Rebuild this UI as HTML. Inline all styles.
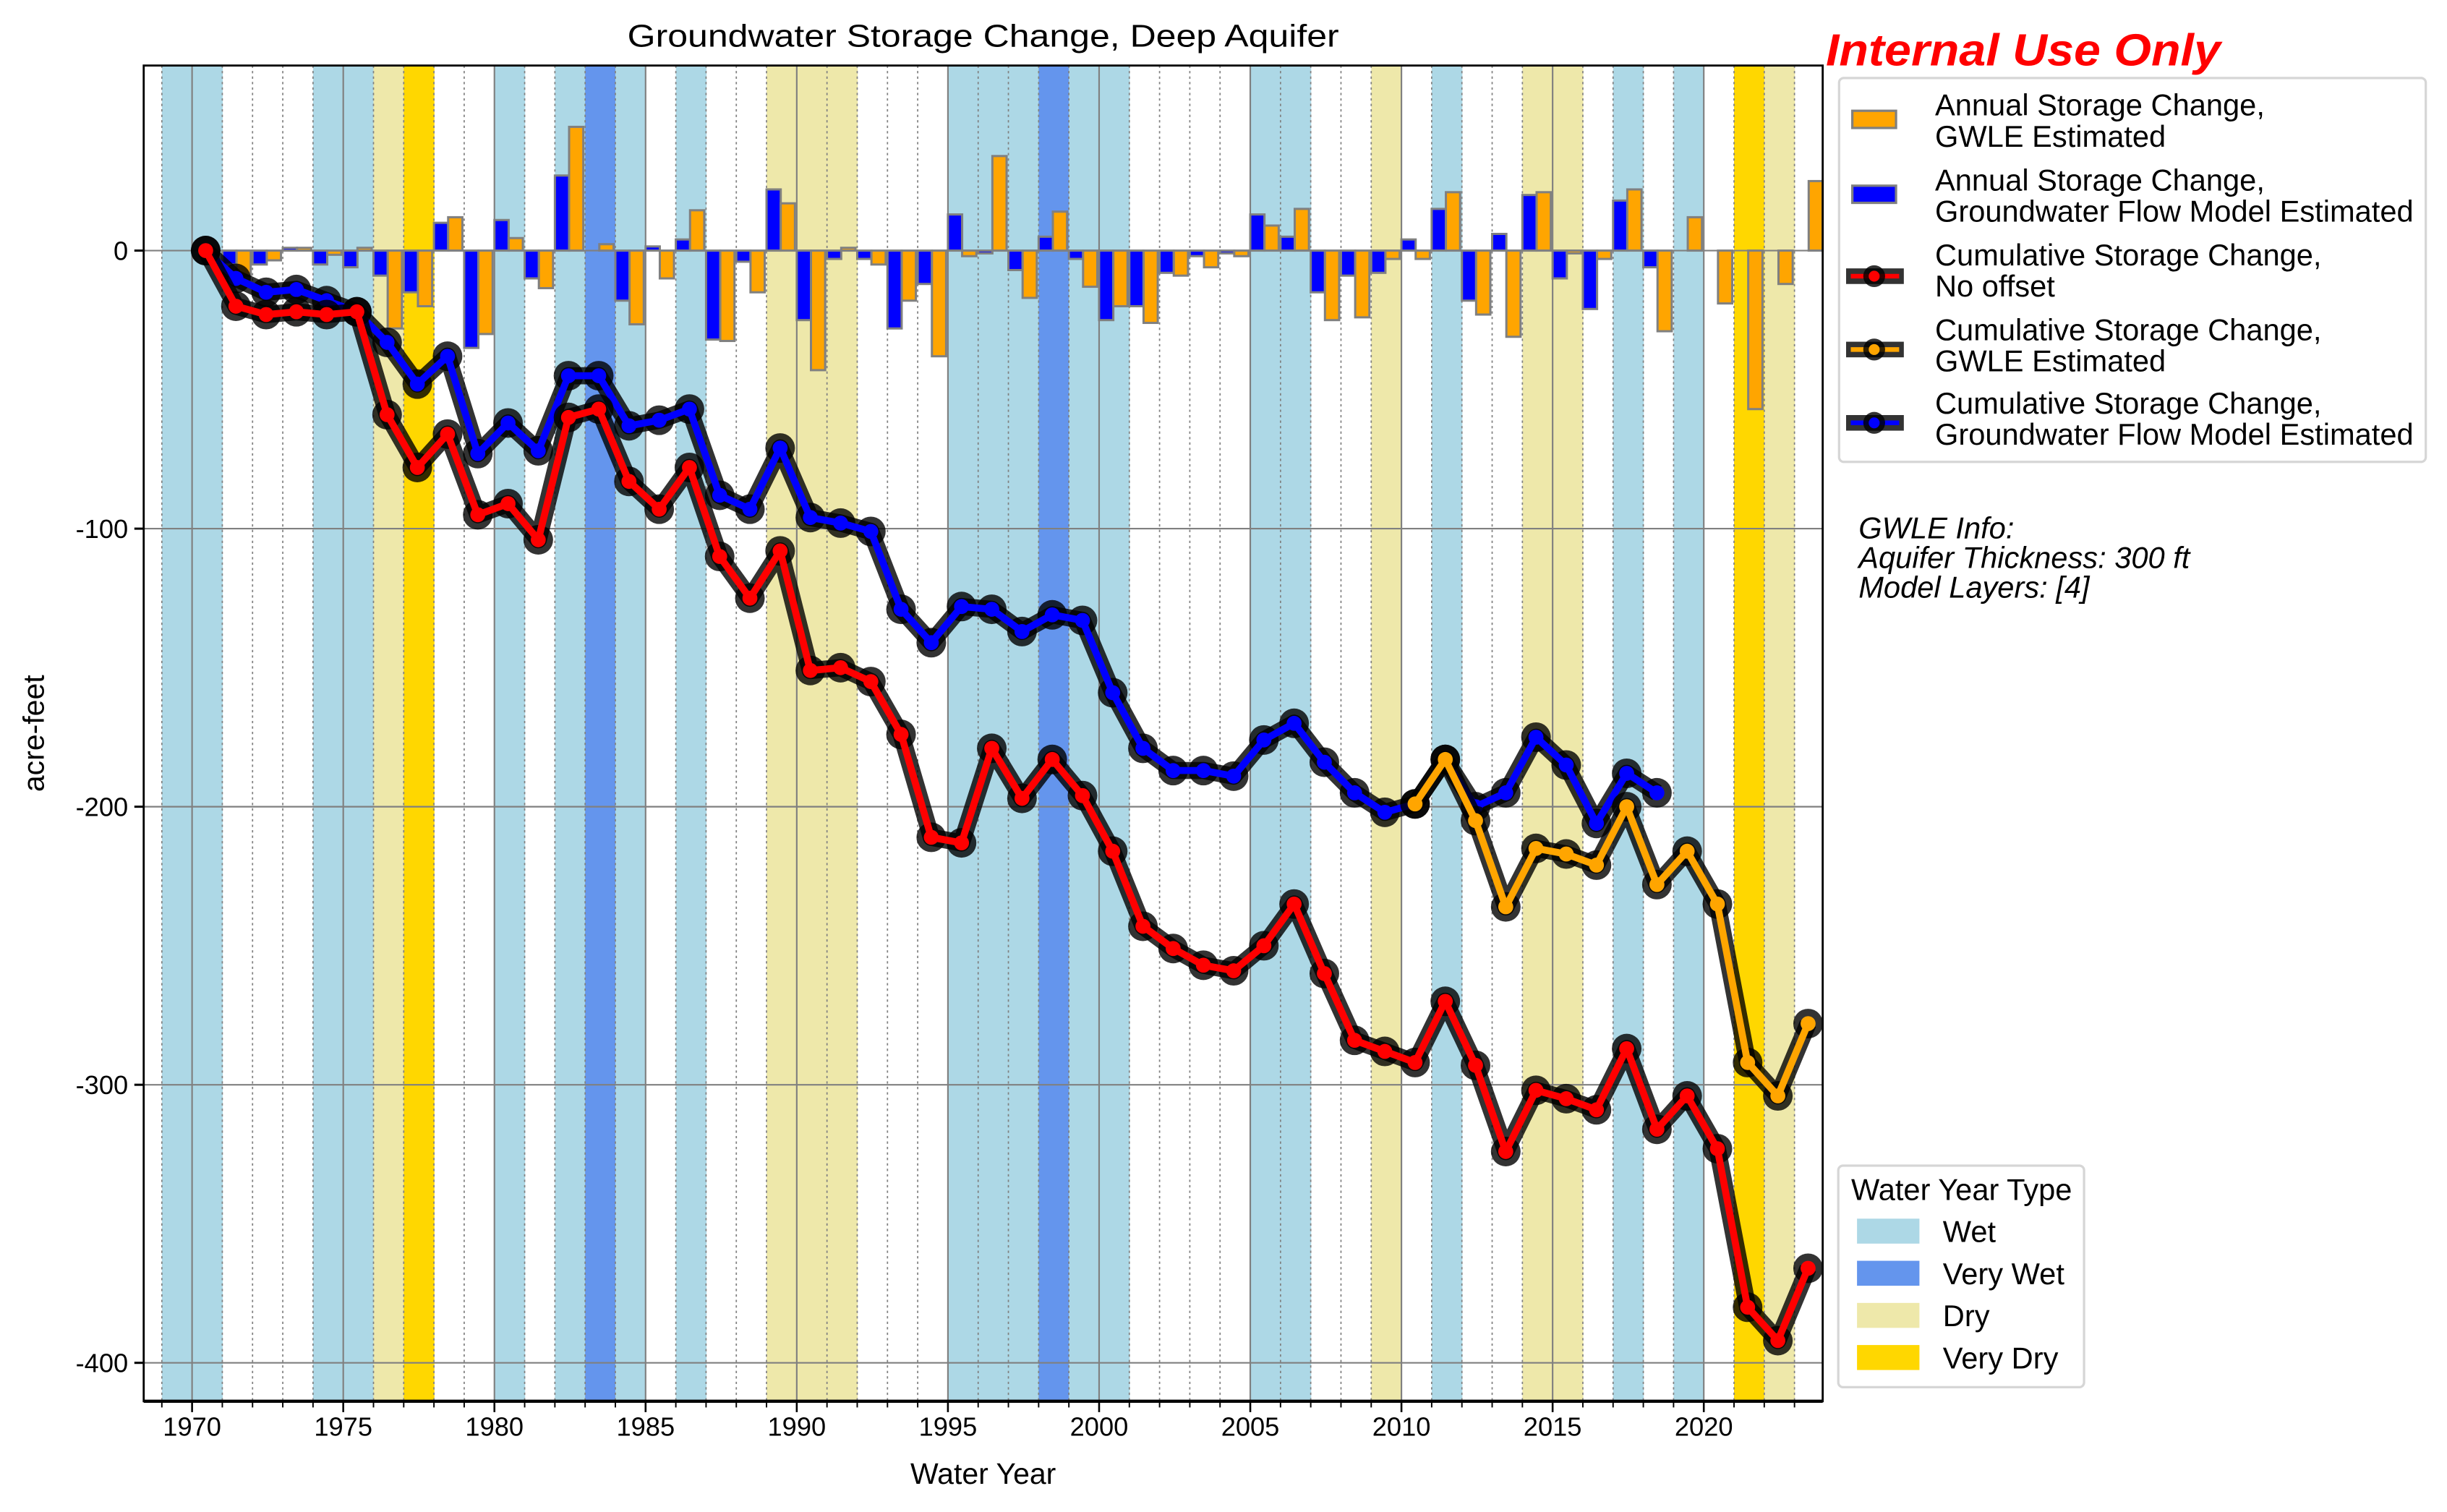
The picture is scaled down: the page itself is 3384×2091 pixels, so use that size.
<!DOCTYPE html>
<html><head><meta charset="utf-8"><style>
html,body{margin:0;padding:0;background:#fff}
svg{display:block;font-family:"Liberation Sans",Arial,sans-serif}
</style></head><body>
<svg id="chart" xmlns="http://www.w3.org/2000/svg" width="3384" height="2091" viewBox="0 0 1568 969">
<rect x="0" y="0" width="1568" height="969" fill="#fff"/>
<g id="bands"></g>
<g id="grid"></g>
<g id="bars"></g>
<g id="lines"></g>
<g id="axes"></g>
<text x="630" y="30" font-size="20" text-anchor="middle" textLength="456" lengthAdjust="spacingAndGlyphs">Groundwater Storage Change, Deep Aquifer</text>
<text x="1170" y="42" font-size="29" font-weight="bold" font-style="italic" fill="#ff0000" textLength="253" lengthAdjust="spacingAndGlyphs">Internal Use Only</text>
<text x="630" y="951" font-size="19" text-anchor="middle">Water Year</text>
<text x="28" y="470" font-size="19" text-anchor="middle" transform="rotate(-90 28 470)">acre-feet</text>

<g>
<rect x="1178.5" y="50" width="376" height="246" rx="3" fill="#fff" stroke="#d6d6d6" stroke-width="1.5"/>
<rect x="1187" y="71" width="28" height="11" fill="#ffa500" stroke="#808080" stroke-width="1.5"/>
<text font-size="19.3"><tspan x="1240" y="74">Annual Storage Change,</tspan><tspan x="1240" y="94">GWLE Estimated</tspan></text>
<rect x="1187" y="119" width="28" height="11" fill="#0000ff" stroke="#808080" stroke-width="1.5"/>
<text font-size="19.3"><tspan x="1240" y="122">Annual Storage Change,</tspan><tspan x="1240" y="142">Groundwater Flow Model Estimated</tspan></text>
<g><rect x="1183" y="172" width="37" height="10" fill="#333"/><line x1="1186" y1="177" x2="1217" y2="177" stroke="#ff0000" stroke-width="3"/><circle cx="1201" cy="177" r="7" fill="#000" opacity="0.8"/><circle cx="1201" cy="177" r="3.5" fill="#ff0000"/></g>
<text font-size="19.3"><tspan x="1240" y="170">Cumulative Storage Change,</tspan><tspan x="1240" y="190">No offset</tspan></text>
<g><rect x="1183" y="219" width="37" height="10" fill="#333"/><line x1="1186" y1="224" x2="1217" y2="224" stroke="#ffa500" stroke-width="3"/><circle cx="1201" cy="224" r="7" fill="#000" opacity="0.8"/><circle cx="1201" cy="224" r="3.5" fill="#ffa500"/></g>
<text font-size="19.3"><tspan x="1240" y="218">Cumulative Storage Change,</tspan><tspan x="1240" y="238">GWLE Estimated</tspan></text>
<g><rect x="1183" y="266" width="37" height="10" fill="#333"/><line x1="1186" y1="271" x2="1217" y2="271" stroke="#0000ff" stroke-width="3"/><circle cx="1201" cy="271" r="7" fill="#000" opacity="0.8"/><circle cx="1201" cy="271" r="3.5" fill="#0000ff"/></g>
<text font-size="19.3"><tspan x="1240" y="265">Cumulative Storage Change,</tspan><tspan x="1240" y="285">Groundwater Flow Model Estimated</tspan></text>
</g>

<text font-size="19.3" font-style="italic"><tspan x="1191" y="345">GWLE Info:</tspan><tspan x="1191" y="364">Aquifer Thickness: 300 ft</tspan><tspan x="1191" y="383">Model Layers: [4]</tspan></text>

<g>
<rect x="1178" y="747" width="157.5" height="142" rx="3" fill="#fff" stroke="#d6d6d6" stroke-width="1.5"/>
<text x="1257" y="769" font-size="19.3" text-anchor="middle">Water Year Type</text>
<rect x="1190" y="781" width="40" height="16" fill="#add8e6"/>
<text x="1245" y="796" font-size="19.3">Wet</text>
<rect x="1190" y="808" width="40" height="16" fill="#6495ed"/>
<text x="1245" y="823" font-size="19.3">Very Wet</text>
<rect x="1190" y="835" width="40" height="16" fill="#eee8aa"/>
<text x="1245" y="850" font-size="19.3">Dry</text>
<rect x="1190" y="862" width="40" height="16" fill="#ffd700"/>
<text x="1245" y="877" font-size="19.3">Very Dry</text>
</g>
</svg>
<script>
// ---- data ----
const bandStarts = [1969,1970,1974,1975,1976,1977,1980,1982,1983,1984,1986,1989,1990,1991,1995,1996,1997,1998,1999,2000,2005,2006,2009,2011,2014,2015,2017,2019,2021,2022];
const bandTypes = ["wet","wet","wet","wet","dry","vdry","wet","wet","vwet","wet","wet","dry","dry","dry","wet","wet","wet","vwet","wet","wet","wet","wet","dry","wet","dry","dry","wet","wet","vdry","dry"];
const barYears = [1971,1972,1973,1974,1975,1976,1977,1978,1979,1980,1981,1982,1983,1984,1985,1986,1987,1988,1989,1990,1991,1992,1993,1994,1995,1996,1997,1998,1999,2000,2001,2002,2003,2004,2005,2006,2007,2008,2009,2010,2011,2012,2013,2014,2015,2016,2017,2018,2019,2020,2021,2022,2023];
const modelBars = [-5,-5,1,-5,-6,-9,-15,10,-35,11,-10,27,0,-18,1.5,4,-32,-4,22,-25,-3,-3,-28,-12,13,-1,-7,5,-3,-25,-20,-8,-2,-1,13,5,-15,-9,-8,4,15,-18,6,20,-10,-21,18,-6,null,null,null,null,null];
const gwleBars = [-9,-3.5,1,-1.5,1,-28,-20,12,-30,4.5,-13.5,44.5,2.3,-26.5,-10,14.5,-32.5,-15,17,-43,1,-5,-18,-38,-2,34,-17,14,-13,-20,-26,-9,-6,-2,9,15,-25,-24,-3,-3,21,-23,-31,21,-1,-3,22,-29,12,-19,-57,-12,25];
const cumYears = [1970,1971,1972,1973,1974,1975,1976,1977,1978,1979,1980,1981,1982,1983,1984,1985,1986,1987,1988,1989,1990,1991,1992,1993,1994,1995,1996,1997,1998,1999,2000,2001,2002,2003,2004,2005,2006,2007,2008,2009,2010,2011,2012,2013,2014,2015,2016,2017,2018,2019,2020,2021,2022,2023];
const cumNoOffset = [0,-20,-23,-22,-23,-22,-59,-78,-66,-95,-91,-104,-60,-57,-83,-93,-78,-110,-125,-108,-151,-150,-155,-174,-211,-213,-179,-197,-183,-196,-216,-243,-251,-257,-259,-250,-235,-260,-284,-288,-292,-270,-293,-324,-302,-305,-309,-287,-316,-304,-323,-380,-392,-366];
const cumModel = [0,-10,-15,-14,-18,-22,-33,-48,-38,-73,-62,-72,-45,-45,-63,-61,-57,-88,-93,-71,-96,-98,-101,-129,-141,-128,-129,-137,-131,-133,-159,-179,-187,-187,-189,-176,-170,-184,-195,-202,-199,-183,-200,-195,-175,-185,-206,-188,-195,null,null,null,null,null];
const cumGwle = [null,null,null,null,null,null,null,null,null,null,null,null,null,null,null,null,null,null,null,null,null,null,null,null,null,null,null,null,null,null,null,null,null,null,null,null,null,null,null,null,-199,-183,-205,-236,-215,-217,-221,-200,-228,-216,-235,-292,-304,-278];
const xTicks = [1970,1975,1980,1985,1990,1995,2000,2005,2010,2015,2020];
const yTicks = [0,-100,-200,-300,-400];

// ---- scales ----
const L=92,R=1168,T=42,B=898;
const x = yr => 123.0 + (yr-1970)*19.376;
const y = v => 160.6 - v*1.782;
const NS="http://www.w3.org/2000/svg";
function mk(tag, attrs, parent){const e=document.createElementNS(NS,tag);for(const k in attrs)e.setAttribute(k,attrs[k]);parent.appendChild(e);return e;}
const bandColor={wet:"#add8e6",vwet:"#6495ed",dry:"#eee8aa",vdry:"#ffd700"};

const gB=document.getElementById("bands");
bandStarts.forEach((s,i)=>{
  const r=mk("rect",{x:x(s),y:T,width:x(s+1)-x(s)+0.3,height:B-T,fill:bandColor[bandTypes[i]]},gB);
  
  
});

const gG=document.getElementById("grid");
for(let yr=1969;yr<=2023;yr++){
  if(yr%5===0) continue;
  const l=mk("line",{x1:x(yr),x2:x(yr),y1:T,y2:B,stroke:"#808080","stroke-width":0.8,"stroke-dasharray":"1.5,2"},gG);
  
  
}
xTicks.forEach(t=>{
  const l=mk("line",{x1:x(t),x2:x(t),y1:T,y2:B,stroke:"#808080","stroke-width":1},gG);
  
  
});
yTicks.forEach(t=>{
  const l=mk("line",{x1:L,x2:R,y1:y(t),y2:y(t),stroke:"#808080","stroke-width":1},gG);
  
  
});

const gBar=document.getElementById("bars");
barYears.forEach((yr,i)=>{
  const m=modelBars[i];
  if(m!==null){
    const r=mk("rect",{x:x(yr),y:Math.min(y(0),y(m)),width:x(yr+0.47)-x(yr),height:Math.abs(y(m)-y(0)),fill:"#0000ff",stroke:"#808080","stroke-width":1.4},gBar);
    
    
  }
  const g=gwleBars[i];
  if(g!==null){
    const w=Math.min(x(yr+0.94),R)-x(yr+0.47);
    const r=mk("rect",{x:x(yr+0.47),y:Math.min(y(0),y(g)),width:w,height:Math.abs(y(g)-y(0)),fill:"#ffa500",stroke:"#808080","stroke-width":1.4},gBar);
    
    
  }
});

const gL=document.getElementById("lines");
function series(vals,color,name){
  const pts=[];
  cumYears.forEach((yr,i)=>{if(vals[i]!==null)pts.push([x(yr+0.45),y(vals[i])]);});
  const d=pts.map((p,i)=>(i?"L":"M")+p[0].toFixed(1)+" "+p[1].toFixed(1)).join(" ");
  const g=mk("g",{},gL);
  
  
  mk("path",{d:d,fill:"none",stroke:"#000","stroke-opacity":0.8,"stroke-width":11,"stroke-linejoin":"round"},g);
  pts.forEach(p=>mk("circle",{cx:p[0],cy:p[1],r:9.5,fill:"#000","fill-opacity":0.8},g));
  mk("path",{d:d,fill:"none",stroke:color,"stroke-width":4.5,"stroke-linejoin":"round"},g);
  pts.forEach(p=>{
    const c=mk("circle",{cx:p[0],cy:p[1],r:4.8,fill:color},g);
    
    
  });
}
series(cumModel,"#0000ff","model-cumulative");
series(cumNoOffset,"#ff0000","no-offset-cumulative");
series(cumGwle,"#ffa500","gwle-cumulative");

const gA=document.getElementById("axes");
mk("rect",{x:L,y:T,width:R-L,height:B-T,fill:"none",stroke:"#000","stroke-width":1.3},gA);
mk("line",{x1:L,x2:R,y1:B,y2:B,stroke:"#000","stroke-width":2},gA);
for(let yr=1969;yr<=2023;yr++){
  const maj=yr%5===0;
  const tk=mk("line",{x1:x(yr),x2:x(yr),y1:B,y2:B+(maj?7:4),stroke:"#000","stroke-width":maj?1.2:0.9},gA);
  
  
}
xTicks.forEach(t=>{
  const tx=mk("text",{x:x(t),y:920,"font-size":16.8,"text-anchor":"middle"},gA);
  tx.textContent=t;
  
  
});
yTicks.forEach(t=>{
  mk("line",{x1:L-6,x2:L,y1:y(t),y2:y(t),stroke:"#000","stroke-width":1.4},gA);
  const tx=mk("text",{x:L-10,y:y(t)+6,"font-size":16.8,"text-anchor":"end"},gA);
  tx.textContent=t;
  
  
});
</script>
</body></html>
